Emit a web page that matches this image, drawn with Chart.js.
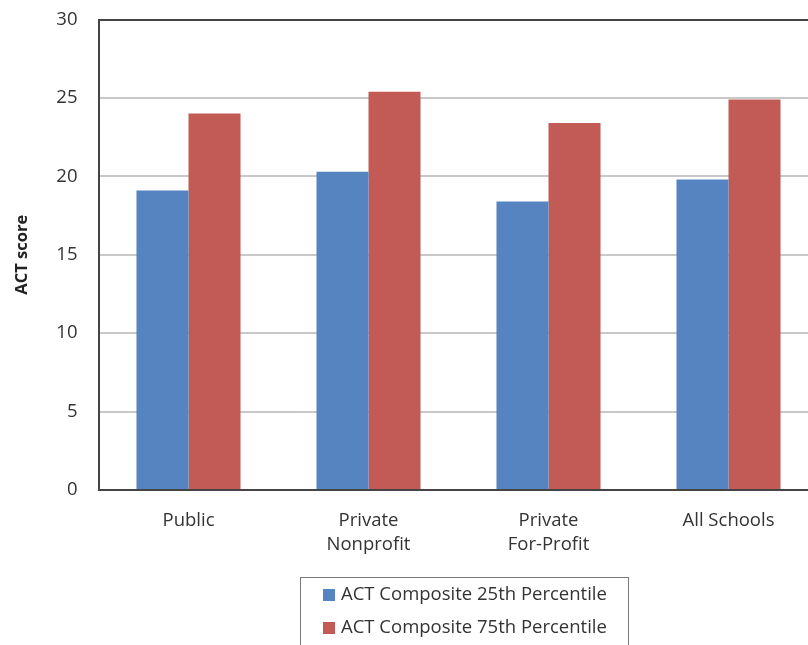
<!DOCTYPE html>
<html>
<head>
<meta charset="utf-8">
<script src="https://cdn.jsdelivr.net/npm/chart.js@4"></script>
<style>
  html, body { margin: 0; padding: 0; background: #fff; }
  #wrap { width: 808px; height: 645px; overflow: hidden; }
</style>
</head>
<body>
<div id="wrap"><canvas id="miGraficoACT" width="830" height="645"></canvas></div>
<script>
// data
const categorias = [['Public'], ['Private', 'Nonprofit'], ['Private', 'For-Profit'], ['All Schools']];
const serieNombres = ['ACT Composite 25th Percentile', 'ACT Composite 75th Percentile'];
const act25 = [19.1, 20.3, 18.4, 19.8];
const act75 = [24.0, 25.4, 23.4, 24.9];
const yTicks = [0, 5, 10, 15, 20, 25, 30];

const fuente = "'Open Sans', Lato, sans-serif";

// legend with a box around it, drawn by hand
const leyendaCaja = {
    id: 'leyendaCaja',
    afterDraw(chart) {
        const ctx = chart.ctx;
        const x0 = 300, y0 = 577, w = 328, h = 90;
        ctx.save();
        ctx.strokeStyle = '#7a7a7a';
        ctx.lineWidth = 1;
        ctx.strokeRect(x0 + 0.5, y0 + 0.5, w, h);
        ctx.font = '18.5px ' + fuente;
        ctx.textBaseline = 'middle';
        chart.data.datasets.forEach((ds, i) => {
            const cy = 595 + i * 33;
            ctx.fillStyle = ds.backgroundColor;
            ctx.fillRect(323, cy - 6, 12, 12);
            ctx.fillStyle = '#333';
            ctx.fillText(ds.label, 341, cy);
        });
        ctx.restore();
    }
};

function getChartConfigACT(d25, d75, labels) {
    return {
        type: 'bar',
        data: {
            labels: labels,
            datasets: [
                { label: serieNombres[0], data: d25, backgroundColor: '#5584C0' },
                { label: serieNombres[1], data: d75, backgroundColor: '#C25A56' }
            ]
        },
        options: {
            responsive: false,
            animation: false,
            layout: { padding: { top: 19.5, right: 11.5, bottom: 0, left: 0 } },
            datasets: { bar: { categoryPercentage: 0.578, barPercentage: 1.0 } },
            plugins: { legend: { display: false }, tooltip: { enabled: false } },
            scales: {
                x: {
                    grid: { display: false, drawTicks: false },
                    border: { display: true, color: '#444', width: 2 },
                    ticks: { color: '#333', font: { family: fuente, size: 18.5, lineHeight: 1.27 }, padding: 19, maxRotation: 0 },
                    afterFit(scale) {
                        scale.height = 155;
                        scale.paddingLeft = 0;
                        scale.paddingRight = 0;
                    }
                },
                y: {
                    min: 0,
                    max: 30,
                    afterBuildTicks(scale) { scale.ticks = yTicks.map(v => ({ value: v })); },
                    grid: {
                        drawTicks: false,
                        lineWidth: 2,
                        color: ctx => (ctx.tick && (ctx.tick.value === 30 || ctx.tick.value === 0)) ? '#444' : '#c8c8c8'
                    },
                    border: { display: true, color: '#444', width: 2 },
                    ticks: { color: '#333', font: { family: fuente, size: 18.5 }, padding: 21 },
                    title: {
                        display: true,
                        text: 'ACT score',
                        color: '#222',
                        font: { family: fuente, size: 16.5, weight: 'bold' },
                        padding: 12
                    },
                    afterFit(scale) {
                        scale.width = 98.5;
                        scale.paddingTop = 0;
                        scale.paddingBottom = 0;
                    }
                }
            }
        },
        plugins: [leyendaCaja]
    };
}

const grafico = new Chart(document.getElementById('miGraficoACT'), getChartConfigACT(act25, act75, categorias));
</script>
</body>
</html>
